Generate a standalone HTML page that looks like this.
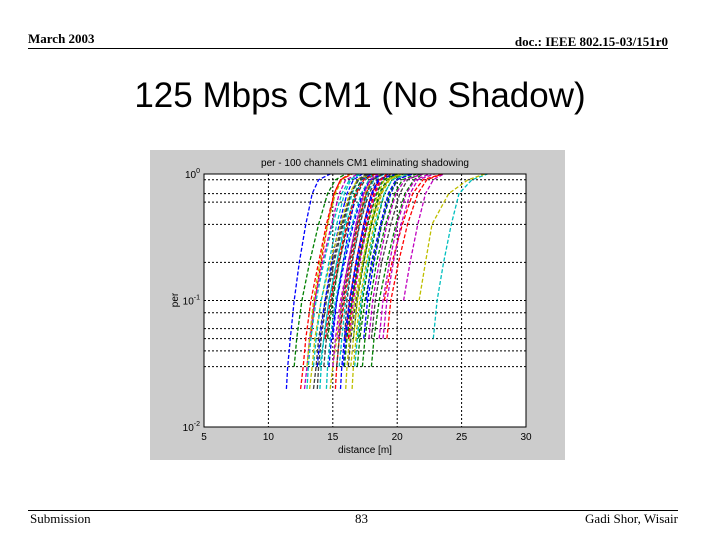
<!DOCTYPE html>
<html><head><meta charset="utf-8"><style>
body{margin:0;background:#fff;width:720px;height:540px;overflow:hidden;font-family:"Liberation Serif",serif;}
.abs{position:absolute;}
</style></head><body>
<div class="abs" style="left:28px;top:31px;font-weight:bold;font-size:13px;">March 2003</div>
<div class="abs" style="right:52px;top:34px;font-weight:bold;font-size:13px;">doc.: IEEE 802.15-03/151r0</div>
<div class="abs" style="left:28px;top:48px;width:640px;height:1px;background:#000;"></div>
<div class="abs" style="left:0;width:720px;top:76px;text-align:center;font-family:'Liberation Sans',sans-serif;font-size:35px;">125 Mbps CM1 (No Shadow)</div>
<div class="abs" style="left:28px;top:510px;width:650px;height:1px;background:#000;"></div>
<div class="abs" style="left:30px;top:511px;font-size:13px;">Submission</div>
<div class="abs" style="left:355px;top:511px;font-size:13px;">83</div>
<div class="abs" style="right:42px;top:511px;font-size:13px;">Gadi Shor, Wisair</div>
<svg class="abs" style="left:0;top:0" width="720" height="540" id="chart"></svg>
<script>
const xTicks=[5,10,15,20,25,30];
const yMinorGrid=[0.9,0.7,0.6,0.4,0.2,0.08,0.06,0.05,0.04,0.03];
const perLevels=[0.02,0.03,0.05,0.1,0.2,0.4,0.7,0.9,1];
const curves=[
[11.4,11.5,11.7,12.0,12.4,12.9,13.4,13.9,14.8],
[null,12.0,12.2,12.6,13.2,13.9,14.6,15.2,16.0],
[null,null,13.3,13.6,14.1,14.6,15.1,15.6,16.5],
[14.0,14.1,14.3,14.7,15.3,15.9,16.5,17.0,17.8],
[12.8,13.0,13.2,13.6,14.2,14.9,15.5,16.0,17.0],
[null,13.0,13.2,13.5,14.0,14.6,15.2,15.7,16.4],
[13.5,13.7,13.9,14.4,15.0,15.7,16.4,16.9,17.6],
[null,13.8,14.0,14.4,14.9,15.5,16.1,16.6,17.3],
[null,null,14.6,15.0,15.5,16.1,16.7,17.2,18.2],
[15.2,15.3,15.5,15.9,16.4,17.0,17.6,18.0,18.8],
[null,15.5,15.7,16.0,16.5,17.1,17.7,18.2,19.0],
[null,null,16.3,16.6,17.1,17.7,18.3,18.8,19.6],
[14.8,15.0,15.3,15.7,16.2,16.9,17.5,18.0,18.7],
[null,16.2,16.4,16.8,17.4,18.0,18.7,19.3,20.3],
[null,null,17.4,17.7,18.2,18.8,19.5,20.0,21.0],
[null,18.0,18.2,18.6,19.2,19.9,20.6,21.3,22.0],
[null,null,19.2,19.5,20.1,20.8,21.6,22.3,23.5],
[null,null,22.8,23.1,23.6,24.2,24.8,25.8,27.0],
[null,null,null,20.5,21.0,21.6,22.2,22.8,23.6],
[13.2,13.4,13.6,14.1,14.8,15.6,16.3,16.9,18.0],
[null,14.3,14.5,14.9,15.5,16.2,16.9,17.5,18.4],
[null,null,15.0,15.3,15.8,16.3,16.8,17.3,18.0],
[null,16.9,17.1,17.5,18.1,18.8,19.4,20.0,21.0],
[null,null,16.0,16.3,16.8,17.4,18.0,18.6,19.5],
[14.5,14.6,14.8,15.2,15.8,16.5,17.2,17.8,19.0],
[null,null,18.6,18.9,19.4,20.0,20.7,21.4,22.5],
[null,null,null,21.7,22.2,22.7,24.0,25.5,26.8],
[13.8,13.9,14.1,14.5,15.1,15.8,16.4,17.0,17.8],
[null,15.8,16.0,16.4,16.9,17.5,18.1,18.6,19.3],
[null,null,17.0,17.3,17.8,18.4,19.0,19.6,20.5],
[12.5,12.7,12.9,13.3,13.9,14.5,15.1,15.6,16.3],
[null,13.5,13.7,14.1,14.7,15.3,15.9,16.4,17.0],
[null,null,15.4,15.7,16.2,16.8,17.4,17.9,18.6],
[16.0,16.1,16.3,16.7,17.3,18.0,18.7,19.3,20.2],
[null,null,18.0,18.3,18.8,19.5,20.2,20.8,21.8],
[null,14.7,14.9,15.3,15.9,16.6,17.3,17.9,18.9],
[null,null,16.6,16.9,17.4,18.0,18.6,19.2,20.0],
[null,null,null,19.0,19.6,20.4,21.2,22.0,23.5],
[13.0,13.1,13.3,13.7,14.3,15.0,15.7,16.3,17.2],
[null,15.0,15.2,15.6,16.2,16.8,17.4,17.9,18.5],
[null,16.4,16.6,16.9,17.3,17.9,18.5,19.0,20.5],
[null,null,15.9,16.1,16.5,17.1,17.8,18.4,19.8],
[15.6,15.7,15.9,16.3,16.8,17.4,18.0,18.5,20.0],
[null,17.3,17.5,17.9,18.4,19.1,19.8,20.4,21.5],
[null,null,16.2,16.5,17.0,17.6,18.2,18.7,19.2],
[null,14.0,14.3,14.7,15.3,16.0,16.8,17.4,18.3],
[null,null,17.8,18.1,18.6,19.2,19.9,20.6,22.0],
[16.5,16.6,16.8,17.1,17.6,18.2,18.8,19.4,21.0],
[null,15.3,15.5,15.8,16.3,16.9,17.6,18.1,18.9],
[null,null,null,17.6,18.0,18.7,19.3,19.9,21.2],
[null,15.9,16.1,16.5,17.0,17.7,18.4,18.9,20.0],
[null,null,14.4,14.8,15.4,16.1,16.8,17.4,18.3],
[null,16.7,16.9,17.2,17.7,18.3,19.0,19.6,20.8],
[null,null,18.9,19.2,19.7,20.3,21.0,21.6,22.9]
];
const colors=["#0000ff","#008000","#ff0000","#00bfbf","#bf00bf","#bfbf00","#404040"];
const svg=document.getElementById('chart');
const NS="http://www.w3.org/2000/svg";
const X0=204,X1=526,Y0=174,Y1=427;
const xs=d=>X0+(d-5)/25*(X1-X0);
const ys=p=>Y0+(-Math.log10(p))/2*(Y1-Y0);
function mk(t,a,p){const e=document.createElementNS(NS,t);for(const k in a)e.setAttribute(k,a[k]);(p||svg).appendChild(e);return e;}
const bg=mk('rect',{x:150,y:150,width:415,height:310,fill:'#cccccc'});


const pl=mk('rect',{x:X0,y:Y0,width:X1-X0,height:Y1-Y0,fill:'#fff'});


const grid=mk('g',{stroke:'#000','stroke-width':1,'stroke-dasharray':'2,2'});


xTicks.slice(1,-1).forEach(t=>mk('line',{x1:xs(t),x2:xs(t),y1:Y0,y2:Y1},grid));
[0.1].concat(yMinorGrid).forEach(p=>mk('line',{x1:X0,x2:X1,y1:ys(p),y2:ys(p)},grid));
const cg=mk('g',{fill:'none','stroke-width':1.3,'stroke-dasharray':'4,2'});


curves.forEach((c,i)=>{
  const pts=[];c.forEach((d,j)=>{if(d!==null)pts.push(xs(d).toFixed(1)+','+ys(perLevels[j]).toFixed(1));});
  const e=mk('polyline',{points:pts.join(' '),stroke:colors[i%colors.length]},cg);
  
  
});
const ax=mk('rect',{x:X0,y:Y0,width:X1-X0,height:Y1-Y0,fill:'none',stroke:'#000'});


const tg=mk('g',{'font-family':'Liberation Sans, sans-serif','font-size':10,fill:'#000'});


xTicks.forEach(t=>{const e=mk('text',{x:xs(t),y:Y1+13,'text-anchor':'middle'},tg);e.textContent=t;
  
  });
[0,-1,-2].forEach(k=>{const e=mk('text',{x:X0-4,y:ys(Math.pow(10,k))+4,'text-anchor':'end'},tg);
  
  
  e.innerHTML='10<tspan dy="-5" font-size="7">'+k+'</tspan>';});
const tt=mk('text',{x:365,y:166,'text-anchor':'middle','font-family':'Liberation Sans, sans-serif','font-size':10});
tt.textContent='per - 100 channels CM1 eliminating shadowing';


const xl=mk('text',{x:365,y:453,'text-anchor':'middle','font-family':'Liberation Sans, sans-serif','font-size':10});
xl.textContent='distance [m]';


const yl=mk('text',{x:0,y:0,'text-anchor':'middle','font-family':'Liberation Sans, sans-serif','font-size':10,transform:'translate(178,300) rotate(-90)'});
yl.textContent='per';


</script>
</body></html>
